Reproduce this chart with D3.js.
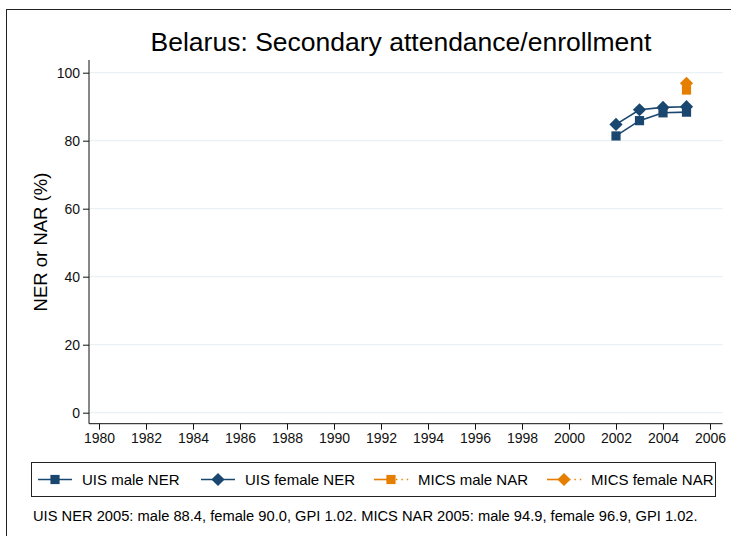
<!DOCTYPE html>
<html>
<head>
<meta charset="utf-8">
<script src="https://cdn.jsdelivr.net/npm/d3@7"></script>
<style>
  body { margin: 0; background: #fff; }
  svg { font-family: "Liberation Sans", Arial, sans-serif; }
</style>
</head>
<body>
<svg id="chart" width="731" height="536"></svg>
<script>
const years = [2002, 2003, 2004, 2005];
const uisMale = [81.4, 85.9, 88.2, 88.4];
const uisFemale = [84.8, 89.1, 89.8, 90.0];
const micsYears = [2005];
const micsMale = [94.9];
const micsFemale = [96.9];
const xTicks = d3.range(1980, 2007, 2);
const yTicks = [0, 20, 40, 60, 80, 100];
const legendLabels = ['UIS male NER', 'UIS female NER', 'MICS male NAR', 'MICS female NAR'];

const navy = '#1a476f';
const orange = '#e67e00';

let svg = d3.select('#chart');

// outer frame
svg.append('rect')
  .attr('x', 6.5).attr('y', 9.5)
  .attr('width', 740).attr('height', 540)
  .attr('fill', 'none').attr('stroke', '#222').attr('stroke-width', 1);

let x = d3.scaleLinear().domain([1980, 2006]).range([99, 710]);
let y = d3.scaleLinear().domain([0, 100]).range([412.7, 72.7]);
let left = 89, right = 722.5, bottom = 423.7;

// grid
svg.append('g')
  .selectAll('line')
  .data(yTicks)
  .join('line')
  .attr('x1', left).attr('x2', right)
  .attr('y1', (d) => y(d)).attr('y2', (d) => y(d))
  .attr('stroke', '#eaf0f3').attr('stroke-width', 1.3);

// axes
let yAxis = svg.append('g')
  .attr('transform', `translate(${left},0)`)
  .call(d3.axisLeft(y).tickValues(yTicks).tickSize(6).tickPadding(3));
yAxis.select('.domain').attr('d', `M0,${bottom}V60`);

let xAxis = svg.append('g')
  .attr('transform', `translate(0,${bottom})`)
  .call(d3.axisBottom(x).tickValues(xTicks).tickFormat(d3.format('d')).tickSize(6).tickPadding(3));
xAxis.select('.domain').attr('d', `M${left},0H${right}`);

svg.selectAll('.tick text').attr('font-size', 14).attr('fill', '#111')
  .attr('font-family', '"Liberation Sans", Arial, sans-serif');
svg.selectAll('.tick line').attr('stroke', '#111');
svg.selectAll('.domain').attr('stroke', '#111');

// title and labels
svg.append('text')
  .attr('x', 401).attr('y', 51)
  .attr('text-anchor', 'middle')
  .attr('font-size', 26.5)
  .text('Belarus: Secondary attendance/enrollment');

svg.append('text')
  .attr('transform', 'translate(47,242) rotate(-90)')
  .attr('text-anchor', 'middle')
  .attr('font-size', 18.5)
  .text('NER or NAR (%)');

// series
let line = d3.line().x((d) => x(d[0])).y((d) => y(d[1]));
const sq = () => 'M-4.6,-4.6H4.6V4.6H-4.6Z';
const dm = () => 'M0,-6.6L6.6,0L0,6.6L-6.6,0Z';

function drawSeries(xs, vals, color, sym) {
  let pts = xs.map((d, i) => [d, vals[i]]);
  svg.append('path')
    .datum(pts)
    .attr('fill', 'none')
    .attr('stroke', color)
    .attr('stroke-width', 1.6)
    .attr('d', line);
  svg.append('g')
    .selectAll('path')
    .data(pts)
    .join('path')
    .attr('transform', (d) => `translate(${x(d[0])},${y(d[1])})`)
    .attr('d', sym())
    .attr('fill', color);
}

drawSeries(years, uisMale, navy, sq);
drawSeries(years, uisFemale, navy, dm);
drawSeries(micsYears, micsMale, orange, sq);
drawSeries(micsYears, micsFemale, orange, dm);

// legend
svg.append('rect')
  .attr('x', 31.5).attr('y', 462.5)
  .attr('width', 684).attr('height', 34)
  .attr('fill', 'none').attr('stroke', '#222');

const legendX = [38, 201, 374, 547];
const legendColors = [navy, navy, orange, orange];
const legendSyms = [sq, dm, sq, dm];
const ly = 479.5;

legendLabels.forEach((lab, i) => {
  let g = svg.append('g').attr('transform', `translate(${legendX[i]},${ly})`);
  let dotted = i >= 2;
  g.append('line')
    .attr('x1', 0).attr('x2', dotted ? 17 : 34)
    .attr('stroke', legendColors[i]).attr('stroke-width', 1.6);
  if (dotted) {
    g.append('line')
      .attr('x1', 22).attr('x2', 36)
      .attr('stroke', legendColors[i]).attr('stroke-width', 1.4)
      .attr('stroke-dasharray', '1.4,4');
  }
  g.append('path')
    .attr('transform', 'translate(17,0)')
    .attr('d', legendSyms[i]())
    .attr('fill', legendColors[i]);
  g.append('text')
    .attr('x', 44).attr('y', 5.5)
    .attr('font-size', 15)
    .text(lab);
});

svg.append('text')
  .attr('x', 33).attr('y', 521)
  .attr('font-size', 14.7)
  .text('UIS NER 2005: male 88.4, female 90.0, GPI 1.02. MICS NAR 2005: male 94.9, female 96.9, GPI 1.02.');
</script>
</body>
</html>
